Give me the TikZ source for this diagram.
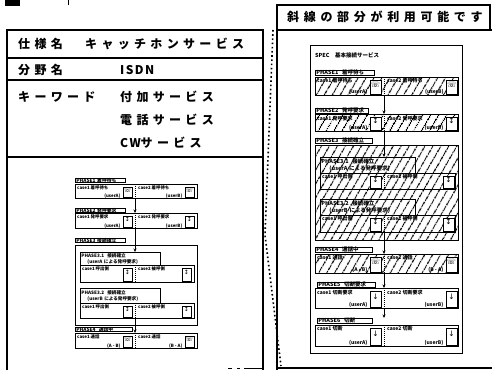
\documentclass[tikz,border=0pt]{standalone}
\usepackage{fontspec}
\newfontfamily\jp{Noto Sans CJK JP}
\newfontfamily\jpwide{Noto Sans CJK JP}[LetterSpace=36]
\newfontfamily\jpnarrow{Noto Sans CJK JP}[LetterSpace=12]
\newfontfamily\jphead{Noto Sans CJK JP}[LetterSpace=39]
\newfontfamily\sym{DejaVu Sans}
\usetikzlibrary{arrows.meta,patterns.meta,calc,fit}

\newcommand\CaseRow[8]{%
  \node[rowbox,#2] (#1) at (#3) {};
  \draw[divline] (#1.north -| dv) -- (#1.south -| dv);
  \coordinate (#1a) at ($(#1.north -| dv)+(-\icgap,\ictop)$);
  \coordinate (#1b) at ($(#1.south -| dv)+(-\icgap-\icw,-\icbot)$);
  \node[iconbox, fit=(#1a)(#1b)] (#1i1) {#8};
  \coordinate (#1c) at ($(#1.north east)+(-\icedge,\ictop)$);
  \coordinate (#1d) at ($(#1.south east)+(-\icedge-\icw,-\icbot)$);
  \node[iconbox, fit=(#1c)(#1d)] (#1i2) {#8};
  \node[casetxt] (#1t1) at ($(#1.north west)+(2,1.5)$) {#4};
  \node[subtxt] (#1s1) at ($(#1i1.south west)+(-2,0)$) {#5};
  \node[casetxt] (#1t2) at ($(#1.north -| dv)+(3,1.5)$) {#6};
  \node[subtxt] (#1s2) at ($(#1i2.south west)+(-2,0)$) {#7};
}

\begin{document}
\begin{tikzpicture}[x=1pt,y=-1pt,
  panel/.style={line width=1.6pt},
  bigtxt/.style={anchor=west, inner sep=0pt, font=\jpwide\bfseries\fontsize{12}{14}\selectfont},
  hatched/.style={pattern={Lines[angle=60,distance=6.5pt,line width=1.3pt]}},
  divline/.style={dash pattern=on 1pt off 1pt, line width=0.8pt},
  arr/.style={-{Stealth[length=3.5pt,width=3pt]}, line width=0.9pt}]
\useasboundingbox (0,0) rectangle (492,370);

% corner fragments
\fill (5,0) rectangle (20,6);
\draw[line width=0.8pt] (68,0) -- (68,5);

% ---------- left panel ----------
\draw[panel] (7,370) -- (7,30) -- (263,30) -- (263,370);
\draw[panel] (7,58) -- (263,58);
\draw[panel] (7,80) -- (263,80);
\draw[panel] (7,157) -- (263,157);
\draw[line width=1pt, dash pattern=on 4pt off 5pt on 3pt off 4pt on 14pt off 0pt] (228,368) -- (263,368);

\node[bigtxt] (t1) at (18,44) {仕様名};
\node[bigtxt] (t2) at (85,44) {キャッチホンサービス};
\node[bigtxt] (t3) at (18,70) {分野名};
\node[bigtxt, font=\jpnarrow\bfseries\fontsize{12}{14}\selectfont] (t4) at (120,70) {ISDN};
\node[bigtxt] (t5) at (18,97) {キーワード};
\node[bigtxt] (t6) at (120,97) {付加サービス};
\node[bigtxt] (t7) at (120,120) {電話サービス};
\node[bigtxt] (t8) at (120,143) {{\jpnarrow CW}サービス};

% small diagram in left panel
\begin{scope}[
  lbl/.style={draw, line width=0.9pt, anchor=north west, inner xsep=1pt, inner ysep=0pt, align=left,
     font=\jp\bfseries\fontsize{4.8}{5}\selectfont, text height=3.6pt, text depth=0.6pt},
  lbltwo/.style={draw, line width=0.9pt, anchor=north west, inner xsep=1pt, inner ysep=0.5pt, align=left,
     font=\jp\bfseries\fontsize{4.6}{5.5}\selectfont},
  rowbox/.style={draw, line width=0.9pt, anchor=north west, inner sep=0pt},
  casetxt/.style={anchor=north west, inner sep=0pt, font=\jp\bfseries\fontsize{4.4}{4.8}\selectfont},
  subtxt/.style={anchor=south east, inner sep=0pt, font=\jp\bfseries\fontsize{4.4}{4.8}\selectfont},
  iconbox/.style={draw, line width=0.8pt, inner sep=0pt, font=\sym\fontsize{6}{6}\selectfont}]
\def\icgap{3}\def\icw{9}\def\ictop{3}\def\icbot{1.2}\def\icedge{4}
\coordinate (dv) at (135,0);
\node[lbl, text width=48] (l1l) at (75,178) {PHASE1 着呼待ち};
\CaseRow{l1}{minimum width=122, minimum height=14}{75,184}{case1 着呼待ち}{(userA)}{case2 着呼待ち}{(userB)}{☏}
\node[lbl, text width=48] (l2l) at (75,208) {PHASE2 発呼要求};
\CaseRow{l2}{minimum width=122, minimum height=15}{75,213}{case1 発呼要求}{(userA)}{case2 発呼要求}{(userB)}{↕}
\node[lbl, text width=48] (l3l) at (75,238) {PHASE3 接続確立};
\node[rowbox, minimum width=122, minimum height=80] (l3) at (75,245) {};
\node[lbltwo, text width=78, minimum height=13] (l31l) at (80,252) {PHASE3.1 \ 接続確立\\\hspace*{6pt}(userA による発呼要求)};
\CaseRow{l31}{minimum width=114, minimum height=17}{80,265}{case1 呼出側}{}{case2 被呼側}{}{↕}
\node[lbltwo, text width=78, minimum height=15] (l32l) at (80,288) {PHASE3.2 \ 接続確立\\\hspace*{6pt}(userB による発呼要求)};
\CaseRow{l32}{minimum width=114, minimum height=15}{80,303}{case1 呼出側}{}{case2 被呼側}{}{↕}
\node[lbl, text width=55] (l4l) at (75,327) {PHASE4 \ 通話中};
\CaseRow{l4}{minimum width=122, minimum height=15}{75,333}{case1 通話}{(A - B)}{case2 通話}{(B - A)}{☏}
\draw[arr] (l1.south -| dv) -- (l2.north -| dv);
\draw[arr] (l2.south -| dv) -- (l31l.north -| dv);
\draw[arr] (l32.south -| dv) -- (l4.north -| dv);
\end{scope}

% dotted connector between panels
\coordinate (dA) at (273,30);
\coordinate (dB) at (265,235);
\coordinate (dC) at (281,366);
\draw[line width=1.6pt, dash pattern=on 1.6pt off 2.6pt] (dA) -- (dB) -- (dC);

% ---------- right panel ----------
\draw[panel] (277,370) -- (277,5) -- (490,5) -- (490,30);
\draw[panel] (277,30) -- (492,30);
\draw[panel] (277,368) -- (492,368);
\node[anchor=west, inner sep=0pt, font=\jphead\bfseries\fontsize{12}{14}\selectfont] (head) at (287,17) {斜線の部分が利用可能です};

\node[draw, line width=1pt, anchor=north west, minimum width=152, minimum height=308, inner sep=0pt] (inner) at (310,45) {};
\node[anchor=west, inner sep=0pt, font=\jp\bfseries\fontsize{5.5}{6}\selectfont] (spec) at (315,55) {SPEC\quad 基本接続サービス};

\begin{scope}[
  lbl/.style={draw, line width=0.9pt, anchor=north west, inner xsep=1pt, inner ysep=0pt, align=left,
     font=\jp\bfseries\fontsize{5.5}{6}\selectfont, text height=4.2pt, text depth=0.7pt},
  lbltwo/.style={draw, line width=0.9pt, anchor=north west, inner xsep=1pt, inner ysep=0.5pt, align=left,
     font=\jp\bfseries\fontsize{5.5}{7}\selectfont},
  rowbox/.style={draw, line width=0.9pt, anchor=north west, inner sep=0pt},
  casetxt/.style={anchor=north west, inner sep=0pt, font=\jp\bfseries\fontsize{5}{5.5}\selectfont},
  subtxt/.style={anchor=south east, inner sep=0pt, font=\jp\bfseries\fontsize{5}{5.5}\selectfont},
  iconbox/.style={draw, line width=0.8pt, inner sep=0pt, fill=white, font=\sym\fontsize{7.5}{7.5}\selectfont}]
\def\icgap{3}\def\icw{11}\def\ictop{3}\def\icbot{1.5}\def\icedge{2}
\coordinate (dv) at (384,0);
\node[lbl, text width=57] (r1l) at (315,70) {PHASE1 \ 着呼待ち};
\CaseRow{r1}{minimum width=143, minimum height=18, hatched}{315,77}{case1 着呼待ち}{(userA)}{case2 着呼待ち}{(userB)}{☏}
\node[lbl, text width=51] (r2l) at (315,108) {PHASE2 \ 発呼要求};
\CaseRow{r2}{minimum width=143, minimum height=17, hatched}{315,114}{case1 発呼要求}{(userA)}{case2 発呼要求}{(userB)}{↕}
\node[lbl, text width=55] (r3l) at (315,138) {PHASE3 \ 接続確立};
\node[rowbox, hatched, minimum width=143, minimum height=95] (r3) at (315,145) {};
\node[lbltwo, text width=93, minimum height=16] (r31l) at (320,157) {PHASE3.1 \ 接続確立\\\hspace*{8pt}(userA による発呼要求)};
\CaseRow{r31}{minimum width=135, minimum height=16}{320,173}{case1 呼出側}{}{case2 被呼側}{}{↕}
\node[lbltwo, text width=93, minimum height=16] (r32l) at (320,199) {PHASE3.2 \ 接続確立\\\hspace*{8pt}(userB による発呼要求)};
\CaseRow{r32}{minimum width=135, minimum height=17}{320,215}{case1 呼出側}{}{case2 被呼側}{}{↕}
\node[lbl, text width=55] (r4l) at (315,247) {PHASE4 \ 通話中};
\CaseRow{r4}{minimum width=143, minimum height=19, hatched}{315,254}{case1 通話}{(A - B)}{case2 通話}{(B - A)}{☏}
\node[lbl, text width=56] (r5l) at (317,282) {PHASE5 \ 切断要求};
\CaseRow{r5}{minimum width=143, minimum height=20}{315,288}{case1 切断要求}{(userA)}{case2 切断要求}{(userB)}{↓}
\node[lbl, text width=53] (r6l) at (317,318) {PHASE6 \ 切断};
\CaseRow{r6}{minimum width=143, minimum height=21}{315,325}{case1 切断}{(userA)}{case2 切断}{(userB)}{↓}
\draw[arr] (r1.south -| dv) -- (r2.north -| dv);
\draw[arr] (r2.south -| dv) -- (r31l.north -| dv);
\draw[arr] (r32.south -| dv) -- (r4.north -| dv);
\draw[arr] (r4.south -| dv) -- (r5.north -| dv);
\draw[arr] (r5.south -| dv) -- (r6l.north -| dv);
\end{scope}
\end{tikzpicture}
\end{document}
